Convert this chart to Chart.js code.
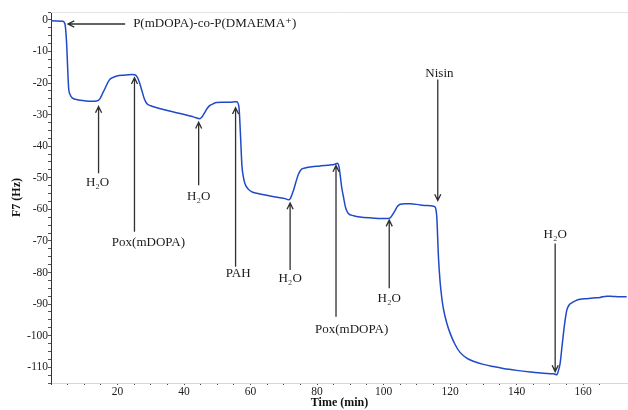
<!DOCTYPE html>
<html>
<head>
<meta charset="utf-8">
<title>QCM frequency shift</title>
<script src="https://cdn.jsdelivr.net/npm/chart.js@4/dist/chart.umd.min.js"></script>
<style>
  html, body { margin: 0; padding: 0; background: #fff; }
  #wrap { width: 628px; height: 410px; }
</style>
</head>
<body>
<div id="wrap"><canvas id="qcm-chart" width="628" height="410"></canvas></div>
<script>
// time (min) and frequency shift (Hz)
const timeMin = [
  0, 3.5, 4.2, 4.7, 5.0, 5.3, 5.8, 6.5, 8, 10, 12, 13.7, 14.7, 15.5, 16.2, 17, 17.7, 18.5, 19.8, 22,
  24.3, 25.2, 25.8, 26.5, 27.3, 28, 28.8, 30, 31.8, 35, 39.8, 43, 44.8, 45.5, 46.3, 47, 47.8, 48.7, 49.8, 52,
  54.8, 55.8, 56.5, 57, 57.4, 57.8, 58.3, 59.3, 60.5, 61.9, 64, 65.9, 68, 70.4, 71.4, 72, 72.9, 73.6, 74.4,
  75.3, 76.4, 78.5, 80.9, 83, 85.4, 86.1, 86.6, 87, 87.4, 87.9, 88.6, 89.4, 91, 92.9, 96, 99.9, 101, 102, 102.8,
  103.5, 104.2, 105, 106.5, 108, 111, 113, 115, 115.6, 116, 116.5, 117, 117.5, 118, 119, 120, 121.5, 123, 125, 127,
  130, 133, 136, 140, 144.1, 148, 151.1, 152.1, 152.6, 153.1, 153.6, 154.1, 154.6, 155.1, 155.8, 156.6, 157.8, 159.1, 161, 163,
  165.1, 167.1, 169, 171, 173.1
];
const freqHz = [
  -0.3, -0.4, -1.3, -7.5, -15, -21.5, -23.8, -24.8, -25.3, -25.6, -25.8, -25.7, -25.0, -23.3, -21.8, -20.0, -18.8, -18.3, -17.8, -17.5,
  -17.3, -17.4, -17.9, -19.5, -22.3, -24.8, -26.5, -27.2, -27.8, -28.7, -29.9, -30.8, -31.3, -30.6, -29.2, -28.0, -27.1, -26.6, -26.2, -26.1,
  -26.0, -25.9, -27.5, -37, -46, -49.5, -51.8, -53.6, -54.5, -54.9, -55.4, -55.8, -56.2, -56.6, -57.0, -56.5, -54.0, -51.5, -48.9,
  -47.3, -46.9, -46.5, -46.3, -46.0, -45.7, -45.4, -46.5, -49.5, -53, -55.8, -59.5, -61.3, -62.0, -62.4, -62.7, -62.9, -62.9, -62.7, -61.5,
  -60.3, -59.0, -58.4, -58.2, -58.2, -58.6, -58.8, -59.0, -59.5, -62.4, -75, -83, -88, -91.5, -96, -99.2, -102.8, -105.3, -107.1, -108.1,
  -109.1, -109.8, -110.4, -111.0, -111.5, -111.9, -112.1, -112.4, -111, -108.7, -104, -99.2, -95, -91.9, -90.3, -89.6, -88.9, -88.5, -88.3, -88.1,
  -87.9, -87.5, -87.6, -87.7, -87.7
];

// axis ranges
const xMin = 0, xMax = 173.5, xStep = 5;
const yMin = -115, yMax = 2.5, yStep = 2.5;

// arrow annotations: label, arrow tail -> tip, label anchor (all in data units)
const notes = [
  { text: "P(mDOPA)-co-P(DMAEMA\u207A)", from: [22.3, -1.3], to: [5.1, -1.3], at: [24.7, -1.3], align: "left" },
  { text: "H\u2082O", from: [14.3, -48.6], to: [14.3, -27.4], at: [14.0, -51.4] },
  { text: "Pox(mDOPA)", from: [25.1, -67.1], to: [25.1, -18.3], at: [29.3, -70.6] },
  { text: "H\u2082O", from: [44.4, -52.4], to: [44.4, -32.4], at: [44.4, -56.0] },
  { text: "PAH", from: [55.5, -78.2], to: [55.5, -27.8], at: [56.3, -80.3] },
  { text: "H\u2082O", from: [71.9, -79.2], to: [71.9, -58.0], at: [71.9, -81.9] },
  { text: "Pox(mDOPA)", from: [85.7, -94.0], to: [85.7, -46.1], at: [90.4, -98.2] },
  { text: "H\u2082O", from: [101.7, -85.0], to: [101.7, -63.4], at: [101.7, -88.2] },
  { text: "Nisin", from: [116.3, -18.9], to: [116.3, -57.2], at: [116.8, -16.9] },
  { text: "H\u2082O", from: [151.6, -70.8], to: [151.6, -111.4], at: [151.6, -68.0] },
];

const serif = "'Liberation Serif', 'DejaVu Serif', serif";

// draws the labelled arrows and the faint top frame line
const arrowNotes = {
  id: "arrowNotes",
  afterDatasetsDraw(chart) {
    const { ctx, chartArea, scales: { x, y } } = chart;
    ctx.save();

    // top frame
    ctx.strokeStyle = "#e4e4e4";
    ctx.lineWidth = 1;
    ctx.beginPath();
    ctx.moveTo(chartArea.left, chartArea.top + 0.5);
    ctx.lineTo(chartArea.right, chartArea.top + 0.5);
    ctx.stroke();

    ctx.font = "13px " + serif;
    ctx.textBaseline = "middle";
    notes.forEach((n) => {
      const x1 = x.getPixelForValue(n.from[0]), y1 = y.getPixelForValue(n.from[1]);
      const x2 = x.getPixelForValue(n.to[0]), y2 = y.getPixelForValue(n.to[1]);
      const ang = Math.atan2(y2 - y1, x2 - x1);
      const head = 7;

      ctx.strokeStyle = "#303030";
      ctx.lineWidth = 1.3;
      ctx.beginPath();
      ctx.moveTo(x1, y1);
      ctx.lineTo(x2, y2);
      ctx.moveTo(x2 - head * Math.cos(ang - 0.45), y2 - head * Math.sin(ang - 0.45));
      ctx.lineTo(x2, y2);
      ctx.lineTo(x2 - head * Math.cos(ang + 0.45), y2 - head * Math.sin(ang + 0.45));
      ctx.stroke();

      ctx.fillStyle = "#1a1a1a";
      ctx.textAlign = n.align || "center";
      ctx.fillText(n.text, x.getPixelForValue(n.at[0]), y.getPixelForValue(n.at[1]));
    });
    ctx.restore();
  },
};

new Chart(document.getElementById("qcm-chart").getContext("2d"), {
  type: "line",
  data: {
    datasets: [
      {
        data: timeMin.map((t, i) => ({ x: t, y: freqHz[i] })),
        borderColor: "#2049c8",
        borderWidth: 1.5,
        pointRadius: 0,
        cubicInterpolationMode: "monotone",
        fill: false,
      },
    ],
  },
  options: {
    responsive: false,
    animation: false,
    layout: { padding: { top: 12, right: 0, bottom: 0, left: 0 } },
    plugins: {
      legend: { display: false },
      tooltip: { enabled: false },
    },
    scales: {
      x: {
        type: "linear",
        min: xMin,
        max: xMax,
        afterFit: (s) => { s.height = 27; },
        border: { color: "#d8d8d8", width: 1 },
        grid: { drawOnChartArea: false, tickLength: 2, tickColor: "#444" },
        ticks: {
          stepSize: xStep,
          autoSkip: false,
          maxRotation: 0,
          padding: 0,
          color: "#222",
          font: { family: serif, size: 11.5 },
          callback: (v) => (v !== 0 && Math.abs(v % 20) < 1e-6 ? v : ""),
        },
        title: {
          display: true,
          text: "Time (min)",
          color: "#111",
          padding: { top: 0, bottom: 0 },
          font: { family: serif, size: 12, weight: "bold" },
        },
      },
      y: {
        min: yMin,
        max: yMax,
        afterFit: (s) => { s.width = 51; },
        border: { color: "#333", width: 1 },
        grid: { drawOnChartArea: false, tickLength: 3, tickColor: "#555" },
        ticks: {
          stepSize: yStep,
          autoSkip: false,
          padding: 0,
          color: "#222",
          font: { family: serif, size: 11.5 },
          callback: (v) => (Math.abs(v % 10) < 1e-6 ? v : ""),
        },
        title: {
          display: true,
          text: "F7 (Hz)",
          color: "#111",
          padding: { top: 10, bottom: 0 },
          font: { family: serif, size: 12, weight: "bold" },
        },
      },
    },
  },
  plugins: [arrowNotes],
});
</script>
</body>
</html>
